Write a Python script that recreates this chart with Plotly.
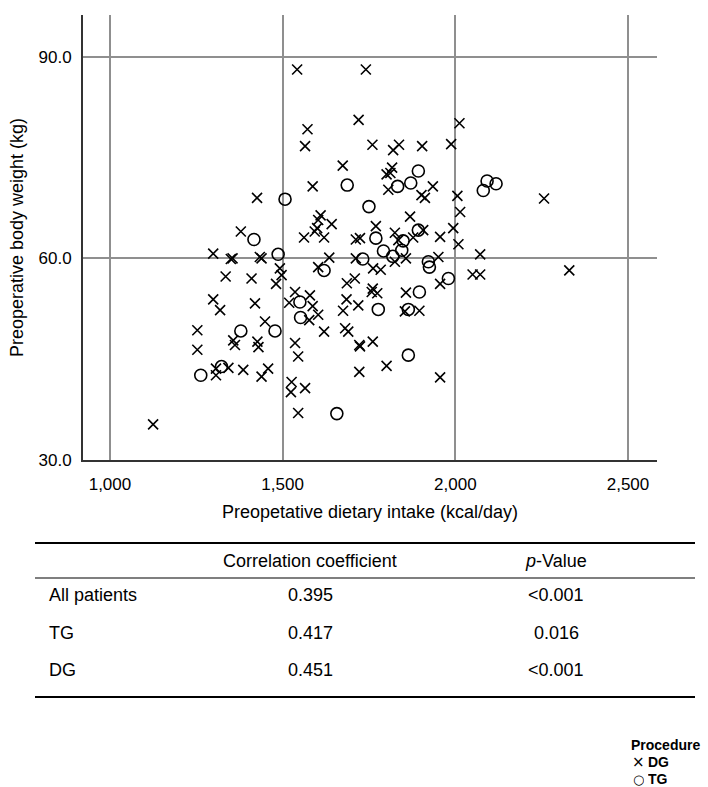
import plotly.graph_objects as go

# ---------------- data ----------------
dg_kcal = [1542, 1741, 1720, 1572, 1565, 1760, 1674, 1587, 1426, 2012,
           1820, 1837, 1904, 1988, 1817, 1801, 1812, 1806, 1902, 1912,
           1935, 2006, 2014, 2257, 1869, 1770, 1825, 1907, 1956, 1994,
           1610, 1603, 1642, 1600, 1593, 1562, 1620, 1379, 1712, 1434,
           1439, 1355, 1635, 1712, 1492, 1497, 1603, 1410, 1686, 1709,
           1481, 1536, 1519, 1579, 1587, 1685, 1675, 1719, 1603, 1577,
           1620, 1681, 1690, 1420, 1449, 1357, 1362, 1427, 1430, 1536,
           1545, 1386, 1458, 1439, 1526, 1524, 1565, 1545, 1125, 1299,
           1350, 1335, 1299, 1319, 1253, 1253, 1307, 1307, 1343, 1722,
           1722, 1724, 1835, 1878, 2009, 1762, 1784, 1825, 1857, 1951,
           1761, 1774, 1758, 1857, 1854, 1896, 1724, 1761, 1801, 1956,
           2072, 2050, 2072, 2330, 1956]
dg_kg = [88.1, 88.1, 80.6, 79.2, 76.7, 76.9, 73.8, 70.7, 69.0, 80.1,
         76.1, 76.9, 76.7, 77.0, 73.5, 72.5, 72.7, 70.2, 69.4, 69.0,
         70.7, 69.3, 66.9, 68.9, 66.2, 64.8, 63.8, 64.2, 63.2, 64.5,
         66.4, 65.7, 65.1, 64.5, 64.0, 63.1, 63.1, 64.0, 62.8, 60.2,
         60.0, 60.0, 60.1, 60.0, 58.5, 57.5, 58.7, 57.0, 56.3, 57.0,
         56.2, 55.0, 53.4, 54.5, 52.9, 53.9, 52.2, 53.0, 51.6, 50.8,
         49.1, 49.6, 49.1, 53.3, 50.6, 47.8, 47.1, 47.6, 46.8, 47.4,
         45.4, 43.4, 43.6, 42.4, 41.6, 40.1, 40.7, 37.0, 35.3, 60.7,
         59.9, 57.3, 53.9, 52.3, 49.3, 46.4, 43.6, 42.6, 43.7, 47.1,
         43.1, 63.0, 62.7, 63.1, 62.1, 58.5, 58.3, 59.5, 60.0, 60.2,
         55.5, 54.8, 55.0, 54.9, 52.1, 52.2, 46.9, 47.6, 44.0, 42.3,
         60.6, 57.6, 57.6, 58.2, 56.2]

tg_kcal = [1687, 1507, 1750, 1417, 1893, 1833, 1871, 2081, 2092, 2118,
           1893, 1487, 1620, 1550, 1552, 1478, 1379, 1263, 1323, 1657,
           1732, 1770, 1849, 1792, 1819, 1845, 1922, 1925, 1980, 1777,
           1896, 1864, 1864]
tg_kg = [70.9, 68.8, 67.7, 62.8, 73.0, 70.7, 71.2, 70.1, 71.5, 71.1,
         64.2, 60.6, 58.2, 53.5, 51.2, 49.2, 49.2, 42.6, 43.9, 36.9,
         59.9, 63.0, 62.6, 61.1, 60.3, 61.2, 59.5, 58.7, 57.0, 52.4,
         55.0, 52.4, 45.6]

x_ticks = [1000, 1500, 2000, 2500]
x_tick_labels = ["1,000", "1,500", "2,000", "2,500"]
y_ticks = [30, 60, 90]
y_tick_labels = ["30.0", "60.0", "90.0"]

table_header = ["Correlation coefficient", "<i>p</i>-Value"]
table_groups = ["All patients", "TG", "DG"]
table_r = ["0.395", "0.417", "0.451"]
table_p = ["<0.001", "0.016", "<0.001"]

legend_title = "Procedure"
legend_names = ["DG", "TG"]
legend_glyphs = ["\u00d7", "\u25cb"]

# ---------------- layout helpers ----------------
W, H = 708, 787
L, R, T, B = 83, 657, 15, 460
FONT = "Liberation Sans, Arial, sans-serif"


def fx(px):
    return (px - L) / (R - L)


def fy(py):
    return (B - py) / (B - T)


fig = go.Figure()
fig.add_trace(go.Scatter(
    x=dg_kcal, y=dg_kg, mode="markers", name="DG",
    marker=dict(symbol="x-thin-open", size=10, color="black",
                line=dict(color="black", width=1.6)),
))
fig.add_trace(go.Scatter(
    x=tg_kcal, y=tg_kg, mode="markers", name="TG",
    marker=dict(symbol="circle-open", size=12, color="black",
                line=dict(color="black", width=1.6)),
))

fig.update_layout(
    width=W, height=H,
    margin=dict(l=L, r=W - R, t=T, b=H - B, autoexpand=False),
    paper_bgcolor="white", plot_bgcolor="white",
    font=dict(family=FONT, size=17, color="black"),
    showlegend=False,
)

fig.update_xaxes(
    range=[922, 2584], tickvals=x_ticks, ticktext=x_tick_labels,
    showgrid=True, gridcolor="#8f8f8f", gridwidth=1.5,
    showline=True, linecolor="#333333", linewidth=2,
    zeroline=False, ticks="", ticklabelstandoff=8,
    tickfont=dict(size=17),
    title=dict(text="Preopetative dietary intake (kcal/day)",
               font=dict(size=18), standoff=12),
    automargin=False,
)
fig.update_yaxes(
    range=[30, 96.2], tickvals=y_ticks, ticktext=y_tick_labels,
    showgrid=True, gridcolor="#8f8f8f", gridwidth=1.5,
    showline=True, linecolor="#333333", linewidth=2,
    zeroline=False, ticks="", ticklabelstandoff=6,
    tickfont=dict(size=17),
    title=dict(text="Preoperative body weight (kg)",
               font=dict(size=18), standoff=10),
    automargin=False,
)

# ---------------- table below the chart ----------------
shapes = []
for py, w in [(543, 2), (578, 1.2), (697, 2)]:
    shapes.append(dict(type="line", xref="paper", yref="paper",
                       x0=fx(35), x1=fx(695), y0=fy(py), y1=fy(py),
                       line=dict(color="black", width=w)))
fig.update_layout(shapes=shapes)

ann = []
col_x = [310, 556]
for cx, txt in zip(col_x, table_header):
    ann.append(dict(text=txt, x=fx(cx), y=fy(561), xref="paper", yref="paper",
                    xanchor="center", yanchor="middle", showarrow=False,
                    font=dict(size=18)))
row_y = [595, 633, 670]
for ry, g, r, p in zip(row_y, table_groups, table_r, table_p):
    ann.append(dict(text=g, x=fx(47), y=fy(ry), xref="paper", yref="paper",
                    xanchor="left", yanchor="middle", showarrow=False,
                    font=dict(size=18)))
    ann.append(dict(text=r, x=fx(col_x[0]), y=fy(ry), xref="paper", yref="paper",
                    xanchor="center", yanchor="middle", showarrow=False,
                    font=dict(size=18)))
    ann.append(dict(text=p, x=fx(col_x[1]), y=fy(ry), xref="paper", yref="paper",
                    xanchor="center", yanchor="middle", showarrow=False,
                    font=dict(size=18)))

# ---------------- legend (drawn as text) ----------------
ann.append(dict(text="<b>%s</b>" % legend_title, x=fx(665), y=fy(745),
                xref="paper", yref="paper", xanchor="center", yanchor="middle",
                showarrow=False, font=dict(size=14)))
for ly, name, glyph, gsize in zip([762, 779], legend_names, legend_glyphs, [15, 13]):
    ann.append(dict(text=glyph, x=fx(638), y=fy(ly), xref="paper", yref="paper",
                    xanchor="center", yanchor="middle", showarrow=False,
                    height=14, borderpad=0,
                    font=dict(size=gsize, family="DejaVu Sans, Liberation Sans")))
    ann.append(dict(text="<b>%s</b>" % name, x=fx(647), y=fy(ly), xref="paper",
                    yref="paper", xanchor="left", yanchor="middle",
                    height=14, borderpad=0,
                    showarrow=False, font=dict(size=14)))
fig.update_layout(annotations=ann)

fig.write_html("out.html", config={"displayModeBar": False})

# remove the browser's default page margin so the figure sits at (0, 0)
with open("out.html", "r", encoding="utf-8") as f:
    html = f.read()
html = html.replace("<head>", "<head><style>html,body{margin:0;padding:0;}</style>", 1)
with open("out.html", "w", encoding="utf-8") as f:
    f.write(html)
